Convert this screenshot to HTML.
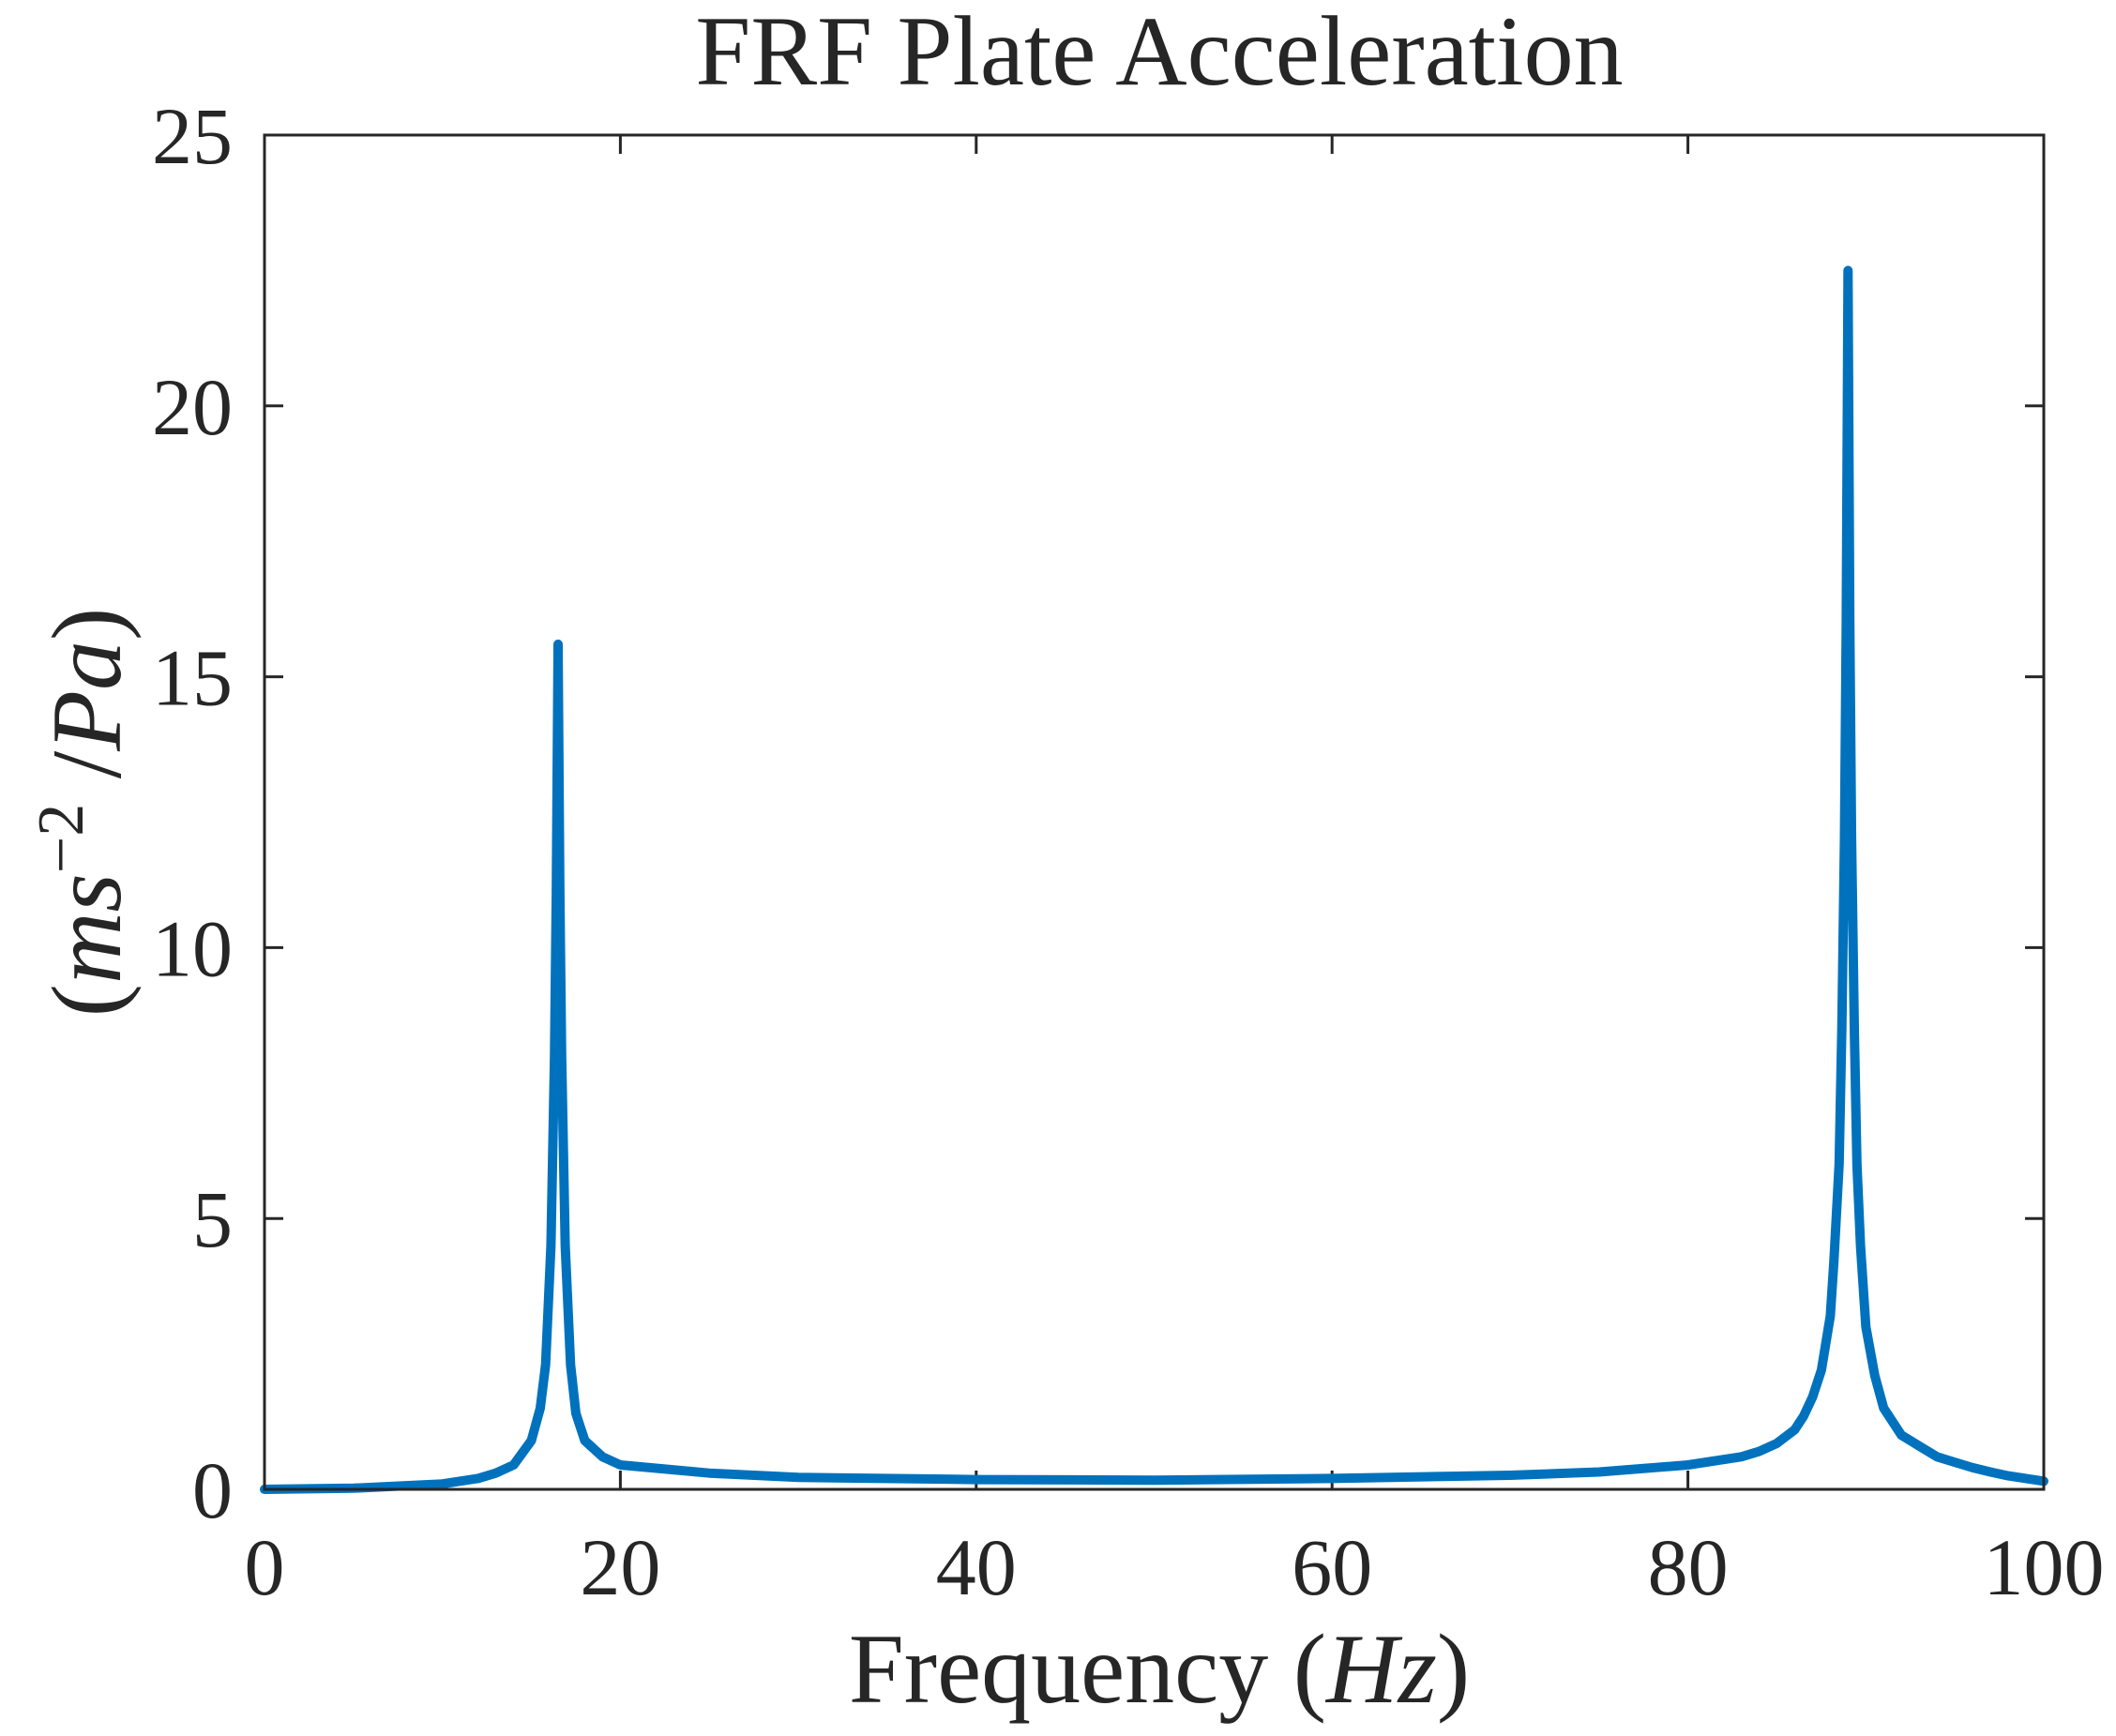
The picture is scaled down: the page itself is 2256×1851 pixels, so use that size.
<!DOCTYPE html>
<html><head><meta charset="utf-8"><style>
html,body{margin:0;padding:0;background:#fff;}
svg text{font-family:"Liberation Serif",serif;fill:#262626;}
</style></head><body>
<svg id="chart" width="2256" height="1846" viewBox="0 0 2256 1846" xmlns="http://www.w3.org/2000/svg">
<rect width="2256" height="1846" fill="#fff"/>
<text x="1236" y="90" font-size="106" text-anchor="middle">FRF Plate Acceleration</text>
<g id="axes"></g>
<path id="series" fill="none" stroke="#0072BD" stroke-width="10" stroke-linejoin="round" stroke-linecap="round"/>
<rect x="282" y="144" width="1897" height="1444" fill="none" stroke="#262626" stroke-width="3"/>
<text x="1236" y="1815" font-size="106" text-anchor="middle">Frequency (<tspan font-style="italic">Hz</tspan>)</text>
<text transform="translate(128,866) rotate(-90)" font-size="106" text-anchor="middle">(<tspan font-style="italic">ms</tspan><tspan font-size="70" dy="-40">−2</tspan><tspan dy="40"> /</tspan><tspan font-style="italic">Pa</tspan>)</text>
</svg>
<script>
const freqs=[0,5,10,12,13,14,15,15.5,15.8,16.1,16.3,16.4,16.5,16.6,16.7,16.9,17.2,17.5,17.8,18,19,20,25,30,40,50,60,70,75,80,83,84,85,86,86.5,87,87.5,88,88.2,88.5,88.65,88.8,88.9,89,89.1,89.2,89.35,89.5,89.7,90,90.5,91,92,93,94,95,96,97,98,100];
const accel=[0,0.02,0.1,0.2,0.3,0.45,0.9,1.5,2.3,4.5,8,11,15.6,11,8,4.5,2.3,1.4,1.1,0.9,0.6,0.45,0.3,0.22,0.18,0.17,0.2,0.26,0.32,0.45,0.6,0.7,0.85,1.1,1.35,1.7,2.2,3.2,4.2,6,8.5,12,16,22.5,16,12,8.5,6,4.5,3,2.1,1.5,1,0.8,0.6,0.5,0.4,0.32,0.25,0.15];
const xTicks=[0,20,40,60,80,100];
const yTicks=[0,5,10,15,20,25];
const L=282,R=2179,T=144,B=1588;
const xs=v=>L+(v-0)/(100-0)*(R-L);
const ys=v=>B-(v-0)/(25-0)*(B-T);
const NS="http://www.w3.org/2000/svg";
const ax=document.getElementById('axes');
xTicks.forEach(t=>{
  const x=xs(t);
  const l1=document.createElementNS(NS,'path');
  l1.setAttribute('d',`M${x},${B}V${B-20}M${x},${T}V${T+20}`);
  l1.setAttribute('stroke','#262626');l1.setAttribute('stroke-width','3');
  
  
  ax.appendChild(l1);
  const tx=document.createElementNS(NS,'text');
  tx.setAttribute('x',x);tx.setAttribute('y',1700);tx.setAttribute('font-size','86');tx.setAttribute('text-anchor','middle');
  tx.textContent=t;
  
  
  ax.appendChild(tx);
});
yTicks.forEach(t=>{
  const y=ys(t);
  const l1=document.createElementNS(NS,'path');
  l1.setAttribute('d',`M${L},${y}H${L+20}M${R},${y}H${R-20}`);
  l1.setAttribute('stroke','#262626');l1.setAttribute('stroke-width','3');
  
  
  ax.appendChild(l1);
  const tx=document.createElementNS(NS,'text');
  tx.setAttribute('x',248);tx.setAttribute('y',y+30);tx.setAttribute('font-size','86');tx.setAttribute('text-anchor','end');
  tx.textContent=t;
  
  
  ax.appendChild(tx);
});
document.getElementById('series').setAttribute('d',freqs.map((f,i)=>(i?'L':'M')+xs(f).toFixed(1)+','+ys(accel[i]).toFixed(1)).join(''));
</script>
</body></html>
